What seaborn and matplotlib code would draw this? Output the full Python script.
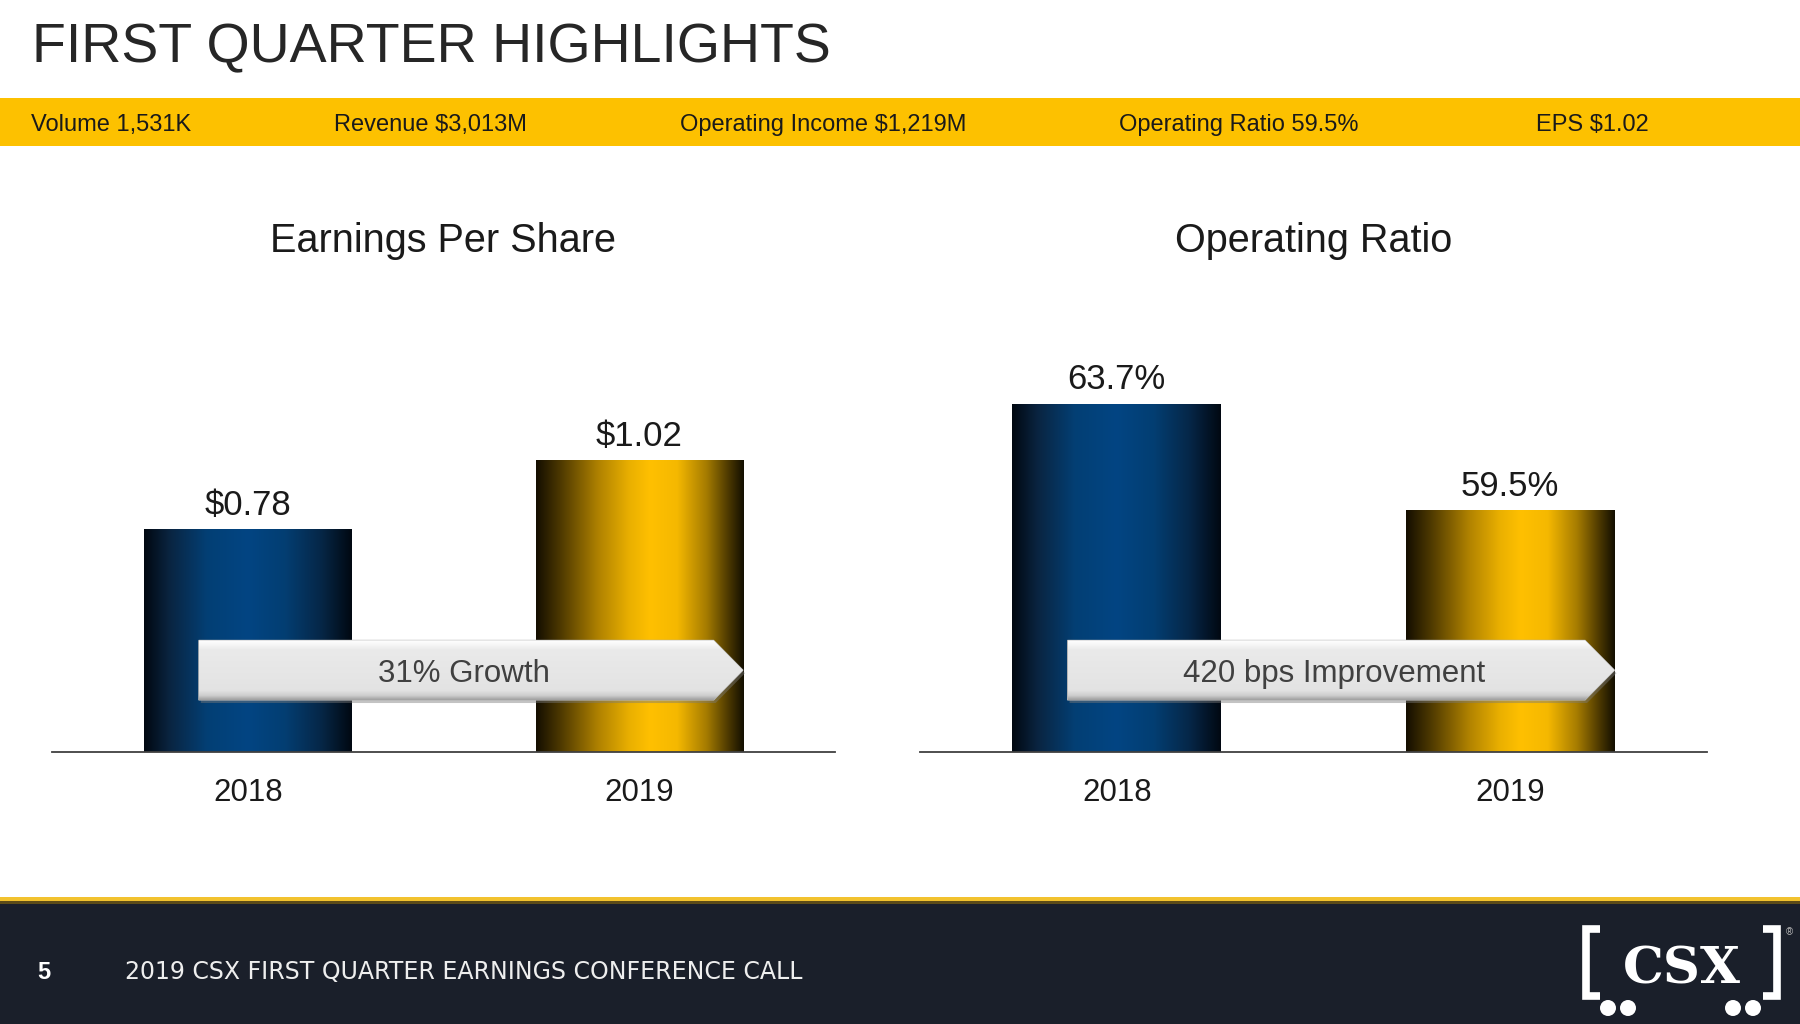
import numpy as np
import matplotlib
matplotlib.use("Agg")
import matplotlib.pyplot as plt
import matplotlib.transforms as mtransforms
import seaborn as sns
from matplotlib.patches import Rectangle, Polygon, Circle
from matplotlib.colors import LinearSegmentedColormap

# =========================================================
#   DATA
# =========================================================
years = ["2018", "2019"]
eps = [0.78, 1.02]
eps_labels = ["$0.78", "$1.02"]
op_ratio = [63.7, 59.5]
op_ratio_labels = ["63.7%", "59.5%"]
chart_titles = ["Earnings Per Share", "Operating Ratio"]
arrow_texts = ["31% Growth", "420 bps Improvement"]
highlights = ["Volume 1,531K", "Revenue $3,013M", "Operating Income $1,219M",
              "Operating Ratio 59.5%", "EPS $1.02"]
page_title = "FIRST QUARTER HIGHLIGHTS"
footer_text = "2019 CSX FIRST QUARTER EARNINGS CONFERENCE CALL"
page_number = "5"

# =========================================================
#   STYLE
# =========================================================
sns.set_theme(style="white")
plt.rcParams["font.family"] = ["Liberation Sans", "DejaVu Sans"]
plt.rcParams["text.parse_math"] = False

BLUE = "#024583"
GOLD = "#FFC000"
blue_grad = LinearSegmentedColormap.from_list("blue_grad", [
    (0.0, "#010811"), (0.12, "#0a2440"), (0.3, "#033f74"), (0.5, "#024583"),
    (0.68, "#033e72"), (0.85, "#062748"), (1.0, "#010812")])
gold_grad = LinearSegmentedColormap.from_list("gold_grad", [
    (0.0, "#140e00"), (0.12, "#4f3a00"), (0.3, "#b08200"), (0.45, "#eab000"),
    (0.55, "#ffc000"), (0.68, "#f5b800"), (0.82, "#a67c00"), (0.93, "#4a3700"),
    (1.0, "#130f00")])
arrow_grad = LinearSegmentedColormap.from_list("arrow_grad", [
    (0.0, "#9f9f9f"), (0.07, "#cdcdcd"), (0.16, "#e3e3e3"), (0.84, "#eaeaea"),
    (0.93, "#f7f7f7"), (1.0, "#ffffff")])

fig = plt.figure(figsize=(18, 10.24), dpi=100)
fig.patch.set_facecolor("white")

# background layer in pixel coordinates
bg = fig.add_axes([0, 0, 1, 1], zorder=0)
bg.set_xlim(0, 1800)
bg.set_ylim(1024, 0)
bg.axis("off")

bg.text(32, 62, page_title, fontsize=40, color="#262626", va="baseline")
bg.add_patch(Rectangle((0, 98), 1800, 48, color="#FDC100", lw=0))
for xpos, txt in zip([31, 334, 680, 1119, 1536], highlights):
    bg.text(xpos, 131, txt, fontsize=17, color="#1a1a1a", va="baseline")

# footer
bg.add_patch(Rectangle((0, 897), 1800, 4, color="#F2C22E", lw=0))
bg.add_patch(Rectangle((0, 901), 1800, 3, color="#5c4b18", lw=0))
bg.add_patch(Rectangle((0, 904), 1800, 120, color="#1A1F2A", lw=0))
bg.text(44, 979, page_number, fontsize=17, fontweight="bold", color="white",
        ha="center", va="baseline")
bg.text(125, 979, footer_text, fontsize=17, color="#eeeeee", va="baseline",
        family=["DejaVu Sans"])

# CSX logo
bg.plot([1600, 1586, 1586, 1600], [929, 929, 996, 996], color="white",
        lw=5.5, solid_capstyle="butt", solid_joinstyle="miter")
bg.plot([1763, 1777, 1777, 1763], [929, 929, 996, 996], color="white",
        lw=5.5, solid_capstyle="butt", solid_joinstyle="miter")
for cx in [1608, 1628, 1733, 1753]:
    bg.add_patch(Circle((cx, 1008), 8, color="white", lw=0))
bg.text(1682, 983, "CSX", fontsize=37, fontweight="heavy", color="white",
        ha="center", va="baseline", family=["DejaVu Serif"])
bg.text(1789, 932, "\u00ae", fontsize=7, color="#bbbbbb", ha="center", va="center")


# =========================================================
#   HELPERS
# =========================================================
def shade_bars(ax, cmaps):
    # gradient fill over each seaborn bar, cut at the visible y range
    grad = np.linspace(0, 1, 256).reshape(1, -1)
    ybot = ax.get_ylim()[0]
    for cont, cmap in zip(ax.containers, cmaps):
        for patch in cont:
            x, w = patch.get_x(), patch.get_width()
            y0 = max(patch.get_y(), ybot)
            y1 = patch.get_y() + patch.get_height()
            patch.set_visible(False)
            ax.imshow(grad, cmap=cmap, aspect="auto",
                      extent=(x, x + w, y0, y1),
                      interpolation="bicubic", zorder=1.1)


def draw_arrow(ax, text, x0=-0.125, x_neck=1.19, x_tip=1.265, yc_frac=0.181, h_frac=0.132):
    ylo, yhi = ax.get_ylim()
    yc = ylo + yc_frac * (yhi - ylo)
    hh = h_frac * (yhi - ylo) / 2
    pts = [(x0, yc - hh), (x_neck, yc - hh), (x_tip, yc), (x_neck, yc + hh), (x0, yc + hh)]
    shadow_tr = mtransforms.offset_copy(ax.transData, fig=fig, x=2, y=-3, units="dots")
    ax.add_patch(Polygon(pts, closed=True, facecolor="#7a7a7a", alpha=0.45,
                         lw=0, transform=shadow_tr, zorder=4))
    poly = Polygon(pts, closed=True, facecolor="#e6e6e6", edgecolor="#b5b5b5",
                   lw=0.8, zorder=5)
    ax.add_patch(poly)
    vgrad = np.linspace(0, 1, 128).reshape(-1, 1)
    im = ax.imshow(vgrad, cmap=arrow_grad, aspect="auto", origin="lower",
                   extent=(x0, x_tip, yc - hh, yc + hh), interpolation="bicubic",
                   zorder=5.1)
    im.set_clip_path(poly)
    ax.text((x0 + x_tip) / 2 - 0.017, yc, text, fontsize=22.5, color="#404040",
            ha="center", va="center_baseline", zorder=6)


def style_axis(ax, title):
    sns.despine(ax=ax, left=True)
    ax.spines["bottom"].set_color("#404040")
    ax.spines["bottom"].set_linewidth(1.3)
    ax.set_yticks([])
    ax.set_xlabel("")
    ax.set_ylabel("")
    ax.tick_params(axis="x", length=0, pad=19, labelsize=22.5, labelcolor="#1a1a1a")
    ax.set_title(title, fontsize=28.5, pad=34.5, color="#1a1a1a")
    ax.set_facecolor("none")


def build_chart(rect, values, labels, ylim, title, arrow_text):
    ax = fig.add_axes(rect, zorder=2)
    sns.barplot(x=years, y=values, hue=years, palette=[BLUE, GOLD], width=0.53,
                saturation=1, legend=False, ax=ax)
    for cont, lab in zip(ax.containers, labels):
        ax.bar_label(cont, labels=[lab], padding=5.5, fontsize=25, color="#1a1a1a")
    ax.set_xlim(-0.5, 1.5)
    ax.set_ylim(*ylim)
    shade_bars(ax, [blue_grad, gold_grad])
    style_axis(ax, title)
    draw_arrow(ax, arrow_text)
    ax.set_xlim(-0.5, 1.5)
    ax.set_ylim(*ylim)
    return ax


# =========================================================
#   CHARTS
# =========================================================
ax1 = build_chart([52 / 1800, 272 / 1024, 783 / 1800, 452 / 1024],
                  eps, eps_labels, (0, 1.582), chart_titles[0], arrow_texts[0])
ax2 = build_chart([920 / 1800, 272 / 1024, 787 / 1800, 452 / 1024],
                  op_ratio, op_ratio_labels, (50, 67.8), chart_titles[1], arrow_texts[1])

fig.savefig("out.png", dpi=100)
